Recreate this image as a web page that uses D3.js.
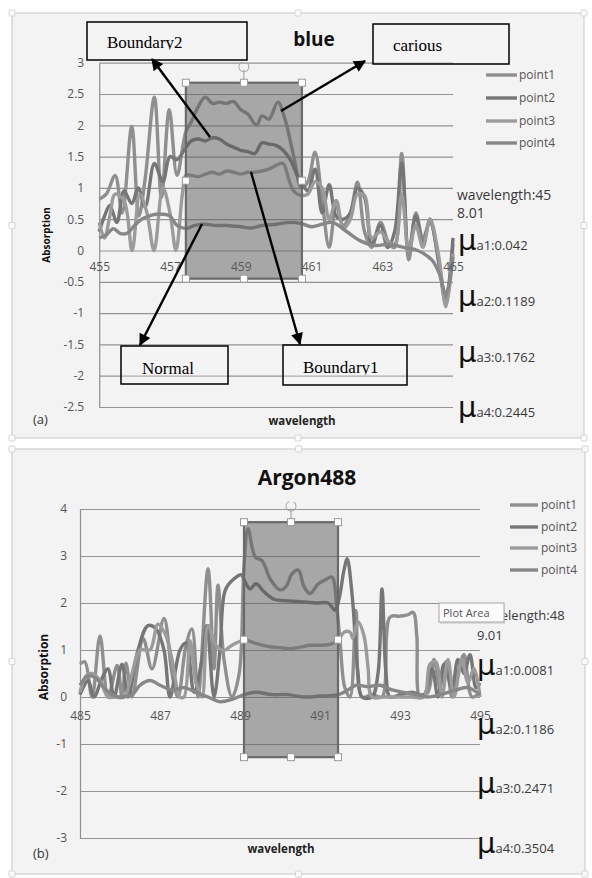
<!DOCTYPE html>
<html><head><meta charset="utf-8">
<script src="https://cdn.jsdelivr.net/npm/d3@7"></script>
<style>body{margin:0;background:#fff}svg{display:block}</style>
</head><body>
<svg id="c" width="592" height="878"></svg>
<script>
// ---------------- DATA ----------------
const seriesNames = ["point1","point2","point3","point4"];

// panel (a) "blue"
const blueTitle = "blue";
const blueXTicks = [455,457,459,461,463,465];
const blueYTicks = [-2.5,-2,-1.5,-1,-0.5,0,0.5,1,1.5,2,2.5,3];
const blueP1 = [[455,0.82],[455.2,0.9],[455.45,1.2],[455.65,0.6],[455.92,1.98],[456.12,0.55],[456.3,1.15],[456.56,2.45],[456.76,0.85],[456.98,2.25],[457.2,1.2],[457.45,1.9],[457.6,2.05],[457.8,2.3],[458.0,2.45],[458.2,2.35],[458.4,2.37],[458.6,2.35],[458.8,2.38],[459.0,2.25],[459.2,2.18],[459.45,2.0],[459.6,2.15],[459.8,2.1],[460.05,2.37],[460.25,2.1],[460.5,1.5],[460.72,1.0],[460.9,1.1],[461.1,1.57],[461.3,0.8],[461.5,0.05],[461.7,0.7],[461.9,0.4],[462.1,0.6],[462.3,1.09],[462.5,0.3],[462.7,0.05],[462.95,0.45],[463.2,0.1],[463.35,0.05],[463.55,1.55],[463.75,-0.15],[463.95,0.6],[464.15,0.2],[464.35,0.45],[464.55,0.0],[464.8,-0.85],[465,0.1]];
const blueP2 = [[455,0.3],[455.15,0.55],[455.3,0.72],[455.5,0.45],[455.7,0.95],[455.92,0.75],[456.1,1.0],[456.3,0.7],[456.56,1.39],[456.8,1.1],[457.0,1.5],[457.2,1.45],[457.45,1.65],[457.6,1.75],[457.8,1.78],[458.0,1.75],[458.2,1.8],[458.4,1.78],[458.6,1.7],[458.8,1.65],[459.0,1.6],[459.2,1.58],[459.4,1.55],[459.6,1.72],[459.8,1.7],[460.0,1.68],[460.2,1.6],[460.4,1.45],[460.6,1.2],[460.72,1.09],[460.9,0.95],[461.1,1.3],[461.3,0.6],[461.5,1.05],[461.7,0.55],[461.9,0.5],[462.1,0.6],[462.3,1.0],[462.5,0.85],[462.7,0.1],[462.95,0.4],[463.15,0.05],[463.35,0.3],[463.55,1.4],[463.75,0.0],[463.95,0.55],[464.15,0.1],[464.35,0.5],[464.6,-0.2],[464.8,-0.8],[465,0.2]];
const blueP3 = [[455,0.45],[455.15,0.2],[455.3,0.55],[455.45,0.9],[455.7,0.8],[455.93,0.0],[456.15,0.9],[456.35,0.6],[456.55,0.0],[456.8,1.0],[457.0,0.6],[457.17,0.0],[457.35,0.9],[457.45,1.2],[457.6,1.2],[457.8,1.18],[458.0,1.22],[458.2,1.25],[458.4,1.22],[458.6,1.27],[458.8,1.25],[459.0,1.22],[459.2,1.25],[459.4,1.25],[459.6,1.27],[459.8,1.3],[460.0,1.36],[460.2,1.39],[460.35,1.15],[460.5,0.95],[460.72,0.88],[460.9,0.9],[461.1,1.1],[461.3,1.0],[461.5,0.5],[461.7,0.8],[461.9,0.35],[462.1,0.5],[462.3,0.9],[462.5,0.88],[462.7,0.2],[462.95,0.3],[463.15,0.15],[463.35,0.1],[463.55,0.9],[463.75,0.0],[463.95,0.4],[464.15,0.05],[464.35,0.5],[464.6,-0.1],[464.8,-0.9],[465,-0.05]];
const blueP4 = [[455,0.2],[455.2,0.25],[455.4,0.35],[455.6,0.27],[455.8,0.28],[456.0,0.4],[456.2,0.5],[456.4,0.55],[456.6,0.58],[456.8,0.58],[457.0,0.55],[457.2,0.4],[457.45,0.35],[457.7,0.4],[458.0,0.42],[458.3,0.4],[458.6,0.4],[459.0,0.38],[459.3,0.36],[459.6,0.4],[460.0,0.42],[460.4,0.45],[460.72,0.43],[461.0,0.38],[461.3,0.42],[461.6,0.45],[462.0,0.3],[462.4,0.15],[462.8,0.08],[463.2,0.1],[463.6,0.05],[464.0,0.0],[464.4,-0.15],[464.6,-0.35],[464.8,-0.7],[465,-0.1]];
const blueInfo = ["wavelength:45","8.01"];
const blueMu = ["a1:0.042","a2:0.1189","a3:0.1762","a4:0.2445"];
const blueNotes = ["Boundary2","carious","Normal","Boundary1"];

// panel (b) "Argon488"
const argonTitle = "Argon488";
const argonXTicks = [485,487,489,491,493,495];
const argonYTicks = [-3,-2,-1,0,1,2,3,4];
const argonP1 = [[485,0.7],[485.12,0.75],[485.3,0.0],[485.5,1.3],[485.7,0.0],[485.93,0.67],[486.05,0.0],[486.15,0.72],[486.3,0.0],[486.58,1.24],[486.8,0.6],[487.1,1.67],[487.3,0.5],[487.45,0.0],[487.65,1.1],[487.8,1.45],[487.95,0.0],[488.2,2.73],[488.35,0.6],[488.45,2.38],[488.6,0.8],[488.8,0.0],[488.98,0.5],[489.1,2.8],[489.2,3.58],[489.38,2.98],[489.55,2.9],[489.77,2.49],[490.0,2.28],[490.15,2.35],[490.3,2.62],[490.46,2.7],[490.6,2.35],[490.75,2.2],[490.95,2.4],[491.15,2.5],[491.3,2.55],[491.42,1.9],[491.5,1.2],[491.62,0.2],[491.75,0.0],[491.9,1.84],[492.05,0.0],[492.3,0.05],[492.55,0.0],[492.75,1.7],[493.0,1.72],[493.2,1.75],[493.33,1.8],[493.42,1.3],[493.5,0.0],[493.7,0.1],[493.85,0.8],[494.0,0.2],[494.15,0.75],[494.3,0.0],[494.45,0.5],[494.6,0.9],[494.8,0.0],[495,0.1]];
const argonP2 = [[485,0.05],[485.2,0.35],[485.35,0.0],[485.55,0.4],[485.7,0.6],[485.85,0.0],[486.05,0.7],[486.2,0.0],[486.45,1.0],[486.7,1.52],[486.9,1.45],[487.1,1.0],[487.25,0.0],[487.5,1.0],[487.65,1.15],[487.85,0.1],[488.05,0.8],[488.17,1.52],[488.35,0.0],[488.5,1.0],[488.63,2.27],[488.83,2.5],[489.04,2.6],[489.1,2.5],[489.25,2.3],[489.4,2.41],[489.6,2.24],[489.85,2.08],[490.1,2.05],[490.5,2.03],[490.9,2.0],[491.2,2.0],[491.38,1.85],[491.48,2.1],[491.6,2.7],[491.68,2.94],[491.8,2.2],[491.95,0.5],[492.05,0.0],[492.3,0.0],[492.45,0.5],[492.55,2.3],[492.65,0.5],[492.75,0.0],[493.0,0.05],[493.3,0.1],[493.6,0.05],[493.8,0.6],[493.95,0.0],[494.1,0.7],[494.3,0.2],[494.45,0.8],[494.6,0.5],[494.75,0.9],[494.9,0.2],[495,0.3]];
const argonP3 = [[485,0.1],[485.15,0.45],[485.3,0.5],[485.5,0.35],[485.7,0.0],[485.85,0.0],[486.1,0.0],[486.3,0.5],[486.5,1.0],[486.75,1.0],[486.95,1.55],[487.15,1.3],[487.3,0.8],[487.5,0.0],[487.6,0.0],[487.75,1.2],[487.9,0.3],[488.05,0.0],[488.2,1.52],[488.4,1.1],[488.6,0.99],[488.8,1.1],[489.1,1.21],[489.4,1.14],[489.75,1.07],[490.0,1.05],[490.25,1.03],[490.5,1.06],[490.75,1.1],[491.0,1.1],[491.25,1.12],[491.45,1.2],[491.6,1.38],[491.75,1.38],[491.82,1.25],[491.95,1.6],[492.1,1.3],[492.2,0.64],[492.3,0.0],[492.6,0.0],[492.9,0.0],[493.3,0.0],[493.6,0.0],[493.75,0.7],[493.9,0.75],[494.05,0.0],[494.2,0.8],[494.35,0.0],[494.55,0.8],[494.7,0.3],[494.85,0.6],[495,0.0]];
const argonP4 = [[485,0.25],[485.2,0.45],[485.4,0.4],[485.6,0.2],[485.8,0.05],[486.0,0.0],[486.3,0.05],[486.5,0.25],[486.75,0.35],[487.0,0.25],[487.3,0.15],[487.6,0.2],[487.9,0.1],[488.2,0.0],[488.5,-0.1],[488.8,-0.05],[489.1,0.05],[489.4,0.1],[489.8,0.05],[490.2,0.05],[490.6,0.0],[491.0,0.02],[491.45,0.05],[491.7,0.15],[491.9,0.25],[492.2,0.22],[492.5,0.25],[492.8,0.15],[493.1,0.1],[493.4,0.05],[493.7,0.0],[494.0,0.05],[494.4,0.15],[494.7,0.2],[495,0.05]];
const argonInfo = ["wavelength:48","9.01"];
const argonMu = ["a1:0.0081","a2:0.1186","a3:0.2471","a4:0.3504"];

// ---------------- LAYOUT / STYLE ----------------
const seriesColors = ["#8f8f8f","#767676","#9b9b9b","#878787"];
const SANS = "'Open Sans', 'Noto Sans', sans-serif";
const SERIF = "'Liberation Serif', 'DejaVu Serif', serif";

const svg = d3.select("#c");
svg.append("rect").attr("width",592).attr("height",878).attr("fill","#ffffff");
const defs = svg.append("defs");
defs.append("marker").attr("id","ah").attr("viewBox","0 0 10 10").attr("refX",9).attr("refY",5)
  .attr("markerWidth",15).attr("markerHeight",12).attr("markerUnits","userSpaceOnUse").attr("orient","auto")
  .append("path").attr("d","M0,0 L10,5 L0,10 Z").attr("fill","#000");

const panels = [
 { id:"a", frame:[12,13,584,438], title:blueTitle, titleX:314, titleY:46, titleSize:19,
   xDomain:[455,465], xRange:[99.2,453], yDomain:[-2.5,3], yRange:[407,62.7],
   xTicks:blueXTicks, yTicks:blueYTicks, yPad:15, xPad:12,
   series:[blueP1,blueP2,blueP3,blueP4],
   sel:{x:[457.45,460.73], y:[2.68,-0.45]},
   legend:{x0:486,x1:517,tx:519,ys:[75,98,121,143],size:12},
   info:blueInfo, infoX:457, infoYs:[200,218], infoSize:14,
   mu:blueMu, muX:458, muYs:[250,306,362,417],
   tag:"(a)", tagY:424, ylab:{x:50,y:235,size:10}, xlab:{x:302,y:425} },
 { id:"b", frame:[12,449,585,874], title:argonTitle, titleX:307, titleY:485, titleSize:21,
   xDomain:[485,495], xRange:[80,480], yDomain:[-3,4], yRange:[838,509],
   xTicks:argonXTicks, yTicks:argonYTicks, yPad:13, xPad:14,
   series:[argonP1,argonP2,argonP3,argonP4],
   sel:{x:[489.1,491.45], y:[3.72,-1.28]},
   legend:{x0:510,x1:538,tx:541,ys:[505,527,548,570],size:12},
   info:argonInfo, infoX:477, infoYs:[620,640], infoSize:13,
   mu:argonMu, muX:477, muYs:[675,734,793,853],
   tag:"(b)", tagY:858, ylab:{x:48,y:667,size:12}, xlab:{x:281,y:853} }
];

function handle(g,x,y){
  g.append("rect").attr("x",x-3.5).attr("y",y-3.5).attr("width",7).attr("height",7)
   .attr("fill","#fff").attr("stroke","#9a9a9a").attr("stroke-width",1);
}

panels.forEach(cfg=>{
  const g = svg.append("g");
  const [fx0,fy0,fx1,fy1] = cfg.frame;
  g.append("rect").attr("x",fx0).attr("y",fy0).attr("width",fx1-fx0).attr("height",fy1-fy0)
   .attr("fill","#f3f3f3").attr("stroke","#cfcfcf").attr("stroke-width",1.2);
  [[fx0,fy0],[(fx0+fx1)/2,fy0],[fx1,fy0],[fx0,(fy0+fy1)/2],[fx1,(fy0+fy1)/2],[fx0,fy1],[(fx0+fx1)/2,fy1],[fx1,fy1]]
   .forEach(([hx,hy])=>g.append("rect").attr("x",hx-3).attr("y",hy-3).attr("width",6).attr("height",6)
     .attr("rx",1).attr("fill","#fafafa").attr("stroke","#d6d6d6"));

  const x = d3.scaleLinear().domain(cfg.xDomain).range(cfg.xRange);
  const y = d3.scaleLinear().domain(cfg.yDomain).range(cfg.yRange);
  const pw = cfg.xRange[1]-cfg.xRange[0];

  const gy = g.append("g").attr("transform",`translate(${cfg.xRange[0]},0)`)
    .call(d3.axisLeft(y).tickValues(cfg.yTicks).tickSize(-pw).tickSizeOuter(0).tickPadding(cfg.yPad).tickFormat(d=>String(d)))
    .attr("font-family",SANS).attr("font-size",12);
  gy.select(".domain").attr("stroke","#8e8e8e").attr("stroke-width",1.2);
  gy.selectAll(".tick line").attr("stroke","#939393").attr("stroke-width",1.2);
  gy.selectAll(".tick text").attr("fill","#555");

  const line = d3.line().x(d=>x(d[0])).y(d=>y(d[1])).curve(d3.curveCatmullRom.alpha(0.5));
  cfg.series.forEach((s,i)=>{
    g.append("path").datum(s).attr("d",line).attr("fill","none")
     .attr("stroke",seriesColors[i]).attr("stroke-width",3.4).attr("stroke-linejoin","round");
  });

  const gx = g.append("g").attr("transform",`translate(0,${y(0)})`)
    .call(d3.axisBottom(x).tickValues(cfg.xTicks).tickSize(0).tickPadding(cfg.xPad).tickFormat(d=>String(d)))
    .attr("font-family",SANS).attr("font-size",12);
  gx.select(".domain").remove();
  gx.selectAll(".tick text").attr("fill","#555");

  const sx0 = x(cfg.sel.x[0]), sx1 = x(cfg.sel.x[1]), sy0 = y(cfg.sel.y[0]), sy1 = y(cfg.sel.y[1]);
  g.append("rect").attr("x",sx0).attr("y",sy0).attr("width",sx1-sx0).attr("height",sy1-sy0)
   .attr("fill","#5c5c5c").attr("fill-opacity",0.5).attr("stroke","#6a6a6a").attr("stroke-width",2.2);
  const mx = (sx0+sx1)/2, my = (sy0+sy1)/2;
  g.append("line").attr("x1",mx).attr("x2",mx).attr("y1",sy0).attr("y2",sy0-13).attr("stroke","#9a9a9a");
  g.append("path").attr("d",d3.arc()({innerRadius:4.5,outerRadius:5.5,startAngle:0.6,endAngle:2*Math.PI-0.3}))
   .attr("transform",`translate(${mx},${sy0-16})`).attr("fill","#a8a8a8");
  [[sx0,sy0],[mx,sy0],[sx1,sy0],[sx0,my],[sx1,my],[sx0,sy1],[mx,sy1],[sx1,sy1]].forEach(([hx,hy])=>handle(g,hx,hy));

  g.append("text").attr("x",cfg.titleX).attr("y",cfg.titleY).attr("text-anchor","middle")
   .attr("font-family",SANS).attr("font-weight","bold").attr("font-size",cfg.titleSize).attr("fill","#111").text(cfg.title);

  seriesNames.forEach((n,i)=>{
    const ly = cfg.legend.ys[i];
    g.append("line").attr("x1",cfg.legend.x0).attr("x2",cfg.legend.x1).attr("y1",ly).attr("y2",ly)
     .attr("stroke",seriesColors[i]).attr("stroke-width",3.4);
    g.append("text").attr("x",cfg.legend.tx).attr("y",ly+4).attr("font-family",SANS).attr("font-size",cfg.legend.size)
     .attr("fill","#555").text(n);
  });

  cfg.info.forEach((t,i)=>g.append("text").attr("x",cfg.infoX).attr("y",cfg.infoYs[i])
     .attr("font-family",SANS).attr("font-size",cfg.infoSize).attr("fill","#3a3a3a").text(t));
  cfg.mu.forEach((t,i)=>{
    const tt = g.append("text").attr("x",cfg.muX).attr("y",cfg.muYs[i]).attr("fill","#111").attr("font-family",SANS);
    tt.append("tspan").attr("font-size",29).attr("font-family","'DejaVu Sans', sans-serif").text("\u03bc");
    tt.append("tspan").attr("font-size",13).attr("fill","#3a3a3a").text(t);
  });

  g.append("text").attr("transform",`translate(${cfg.ylab.x},${cfg.ylab.y}) rotate(-90)`).attr("text-anchor","middle")
   .attr("font-family",SANS).attr("font-weight","bold").attr("font-size",cfg.ylab.size).attr("fill","#111").text("Absorption");
  g.append("text").attr("x",cfg.xlab.x).attr("y",cfg.xlab.y).attr("text-anchor","middle")
   .attr("font-family",SANS).attr("font-weight","bold").attr("font-size",11.5).attr("fill","#222").text("wavelength");
  g.append("text").attr("x",33).attr("y",cfg.tagY).attr("font-family",SANS).attr("font-size",13).attr("fill","#333").text(cfg.tag);

  if (cfg.id==="b"){
    const tip = g.append("g");
    tip.append("rect").attr("x",440).attr("y",605).attr("width",65).attr("height",19).attr("fill","#cfcfcf").attr("opacity",0.6);
    tip.append("rect").attr("x",439).attr("y",603).attr("width",65).attr("height",19).attr("fill","#fbfbfb").attr("stroke","#a6a6a6");
    tip.append("text").attr("x",443).attr("y",617).attr("font-family",SANS).attr("font-size",11).attr("fill","#555").text("Plot Area");
  }
});

const noteBoxes = [
  {box:[87,22,247,60], tx:107, ty:48, clip:true,  arrow:[210,137,152,59]},
  {box:[373,24,509,64], tx:393, ty:51, clip:false, arrow:[281,111,365,61]},
  {box:[121,346,228,384], tx:142, ty:374, clip:false, arrow:[202,224,140,345]},
  {box:[283,345,407,385], tx:303, ty:373, clip:true,  arrow:[251,172,300,344]}
];
const ng = svg.append("g");
noteBoxes.forEach((nb,i)=>{
  const [a,b,c,d] = nb.arrow;
  ng.append("line").attr("x1",a).attr("y1",b).attr("x2",c).attr("y2",d)
    .attr("stroke","#000").attr("stroke-width",2.4).attr("marker-end","url(#ah)");
  const [bx0,by0,bx1,by1] = nb.box;
  ng.append("rect").attr("x",bx0).attr("y",by0).attr("width",bx1-bx0).attr("height",by1-by0)
    .attr("fill","#f7f7f7").attr("fill-opacity",0.25).attr("stroke","#000").attr("stroke-width",1.5);
  const cid = "clip"+i;
  defs.append("clipPath").attr("id",cid).append("rect").attr("x",bx0).attr("y",by0)
    .attr("width",bx1-bx0).attr("height",(nb.clip ? nb.ty+1.5 : by1) - by0);
  ng.append("text").attr("x",nb.tx).attr("y",nb.ty).attr("clip-path",`url(#${cid})`)
    .attr("font-family",SERIF).attr("font-size",17).attr("fill","#000").text(blueNotes[i]);
});
</script>
</body></html>
